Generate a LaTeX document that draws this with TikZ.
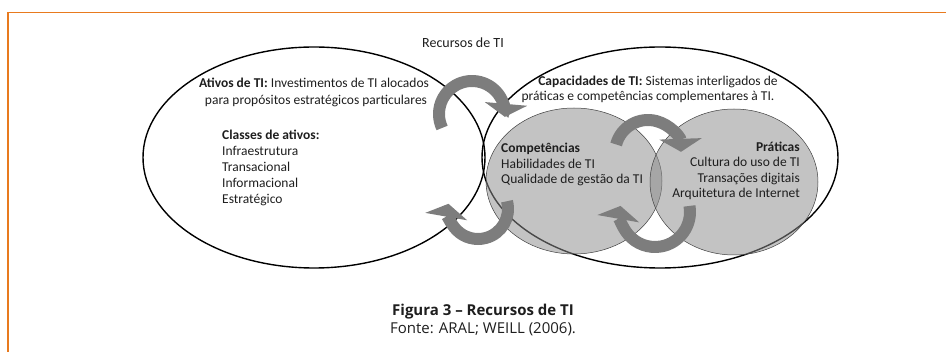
\documentclass[tikz,border=0pt]{standalone}
\usepackage{fontspec}
\setmainfont{Carlito}
\newfontfamily\capfont{Open Sans}
\usetikzlibrary{arrows.meta}
\definecolor{frameorange}{RGB}{232,122,30}
\definecolor{arrowgray}{RGB}{125,125,125}
\definecolor{ellgray}{RGB}{140,140,140}
\definecolor{txtc}{RGB}{30,30,30}
\begin{document}
\begin{tikzpicture}[x=1pt,y=-1pt,
  txt/.style={font=\fontsize{13.5}{16}\selectfont, text=txtc, inner sep=0pt},
  bigell/.style={draw=black, line width=1.4pt},
  grayell/.style={draw=black!75, line width=0.5pt, fill=ellgray, fill opacity=0.52},
  cyc/.style={draw=arrowgray, line width=12pt, -{Triangle[width=42pt,length=13pt]}},
]
\useasboundingbox (0,0) rectangle (946,352);
\draw[frameorange, line width=1.5pt] (8,352) -- (8,12.5) -- (946,12.5);

% big ellipses
\coordinate (lc) at (314,157.5);
\coordinate (rc) at (660,157.5);
\draw[bigell] (lc) ellipse [x radius=171, y radius=110.5];
\draw[bigell] (rc) ellipse [x radius=178, y radius=110.5];

% gray ellipses
\coordinate (cc) at (574,181);
\coordinate (pc) at (734,182);
\path[grayell] (cc) ellipse [x radius=88, y radius=73];
\path[grayell] (pc) ellipse [x radius=84, y radius=73];

% title
\node[txt, font=\fontsize{14}{16}\selectfont, anchor=base] (title) at (463,48) {Recursos de TI};

% left texts
\node[txt, anchor=base] (at1) at (314,88) {\textbf{Ativos de TI:} Investimentos de TI alocados};
\node[txt, anchor=base] (at2) at (316,105) {para propósitos estratégicos particulares};
\node[txt, anchor=base west] (cl0) at (222,140) {\textbf{Classes de ativos:}};
\node[txt, anchor=base west] (cl1) at (222,156) {Infraestrutura};
\node[txt, anchor=base west] (cl2) at (222,172) {Transacional};
\node[txt, anchor=base west] (cl3) at (222,188) {Informacional};
\node[txt, anchor=base west] (cl4) at (222,204) {Estratégico};

% right texts
\node[txt, anchor=base] (cp1) at (658,86) {\textbf{Capacidades de TI:} Sistemas interligados de};
\node[txt, anchor=base] (cp2) at (648,101) {práticas e competências complementares à TI.};
\node[txt, anchor=base west] (co0) at (501,153) {\textbf{Competências}};
\node[txt, anchor=base west] (co1) at (501,169) {Habilidades de TI};
\node[txt, anchor=base west] (co2) at (501,184) {Qualidade de gestão da TI};
\node[txt, anchor=base east] (pr0) at (800,152) {\textbf{Práticas}};
\node[txt, anchor=base east] (pr1) at (800,167) {Cultura do uso de TI};
\node[txt, anchor=base east] (pr2) at (800,183) {Transações digitais};
\node[txt, anchor=base east] (pr3) at (800,198) {Arquitetura de Internet};

% cyclic arrows
\coordinate (a1) at (472,114);
\coordinate (a2) at (478,209);
\coordinate (a3) at (648,153);
\coordinate (a4) at (655,212);
\draw[cyc] (a1) ++(155:33) arc[start angle=155, end angle=365, radius=33];
\draw[cyc] (a2) ++(-15:30) arc[start angle=-15, end angle=190, radius=30];
\draw[cyc] (a3) ++(195:33) arc[start angle=195, end angle=358, radius=33];
\draw[cyc] (a4) ++(-10:35) arc[start angle=-10, end angle=190, radius=35];

% caption
\node[anchor=base, inner sep=0pt, text=txtc, font=\capfont\bfseries\fontsize{15}{18}\selectfont] (fig) at (483,316) {Figura 3 – Recursos de TI};
\node[anchor=base, inner sep=0pt, text=txtc, font=\capfont\fontsize{15}{18}\selectfont] (src) at (483,334) {Fonte: ARAL; WEILL (2006).};
\end{tikzpicture}
\end{document}
